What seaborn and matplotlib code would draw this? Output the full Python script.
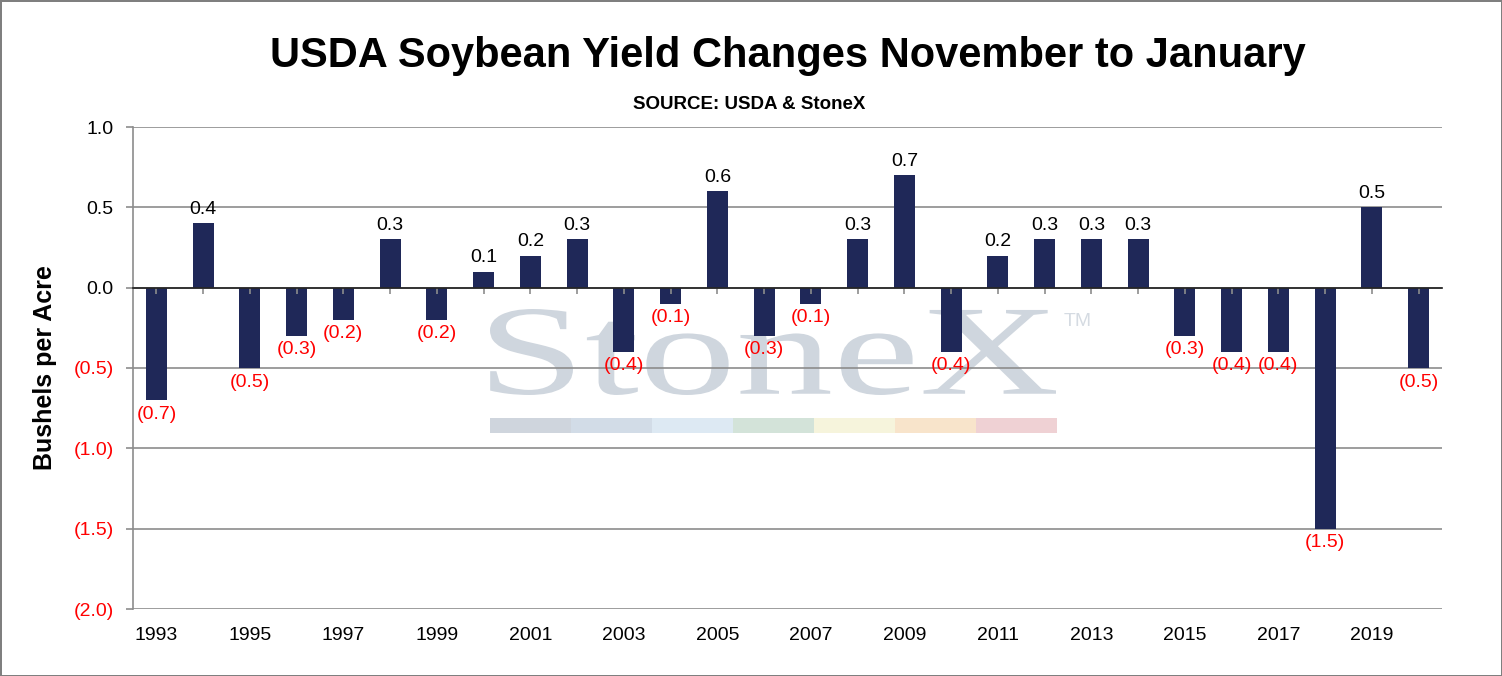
import numpy as np
import pandas as pd
import matplotlib
matplotlib.use("Agg")
import matplotlib.pyplot as plt
import seaborn as sns
from matplotlib.textpath import TextPath
from matplotlib.font_manager import FontProperties
from matplotlib.patches import PathPatch, Rectangle
from matplotlib.transforms import Affine2D, IdentityTransform

# data
years = list(range(1993, 2021))
changes = [-0.7, 0.4, -0.5, -0.3, -0.2, 0.3, -0.2, 0.1, 0.2, 0.3,
           -0.4, -0.1, 0.6, -0.3, -0.1, 0.3, 0.7, -0.4, 0.2, 0.3,
           0.3, 0.3, -0.3, -0.4, -0.4, -1.5, 0.5, -0.5]
y_ticks = [1.0, 0.5, 0.0, -0.5, -1.0, -1.5, -2.0]

BAR = "#1f2858"
GRID = "#8c8c8c"
RED = "#ff0000"

def fmt(v):
    return f"({abs(v):.1f})" if v < 0 else f"{v:.1f}"

df = pd.DataFrame({"year": [str(y) for y in years], "change": changes})

sns.set_theme(style="white")
plt.rcParams["font.family"] = ["Liberation Sans", "DejaVu Sans"]
plt.rcParams.update({"text.color": "black", "axes.labelcolor": "black",
                     "xtick.color": "black", "ytick.color": "black"})

fig = plt.figure(figsize=(15.02, 6.76), dpi=100)
fig.patch.set_facecolor("white")
fig.patch.set_edgecolor("#7f7f7f")
fig.patch.set_linewidth(2)
ax = fig.add_axes([133/1502, 67/676, 1309/1502, 482/676])
ax.set_facecolor("none")

# StoneX watermark (figure pixel coords)
fp = FontProperties(family="Liberation Serif")
tp = TextPath((0, 0), "StoneX", size=100, prop=fp)
ext = tp.get_extents()
x0, x1, ytop, ybot = 490, 1056, 309, 395
sx = (x1 - x0) / ext.width
sy = (ybot - ytop) / ext.height
tr = Affine2D().translate(-ext.x0, -ext.y0).scale(sx, sy).translate(x0, 676 - ybot)
wm = PathPatch(tr.transform_path(tp), facecolor="#cfd6de", edgecolor="none",
               transform=IdentityTransform(), zorder=-1)
fig.patches.append(wm)
fig.text(1064/1502, 1 - 322/676, "TM", fontsize=14, color="#d5dbe2", va="center")
seg_cols = ["#cfd5dd", "#d2dce7", "#dde9f3", "#d3e3d9", "#f6f4dc", "#f8e4cb", "#efd1d4"]
seg_w = (1057 - 490) / len(seg_cols)
for i, c in enumerate(seg_cols):
    fig.patches.append(Rectangle(((490 + i * seg_w) / 1502, 1 - 433/676), seg_w / 1502, 15/676,
                                 transform=fig.transFigure, facecolor=c, edgecolor="none", zorder=-1))

sns.barplot(data=df, x="year", y="change", color=BAR, saturation=1, width=0.45,
            linewidth=0, ax=ax, zorder=3)

ax.set_ylim(-2.0, 1.0)
ax.set_xlim(-0.5, len(years) - 0.5)
ax.set_yticks(y_ticks)
ax.set_yticklabels([fmt(v) for v in y_ticks])
for lab, v in zip(ax.get_yticklabels(), y_ticks):
    lab.set_color(RED if v < 0 else "black")
ax.yaxis.grid(True, color=GRID, linewidth=1.2, zorder=1)
ax.set_axisbelow(True)
ax.tick_params(axis="y", length=5, width=1.2, color=GRID, labelsize=14, pad=9, left=True)
ax.set_xticks(range(0, len(years), 2))
ax.set_xticklabels([str(y) for y in years[::2]])
ax.tick_params(axis="x", length=0, labelsize=14, pad=13)
for s in ["top", "right", "bottom"]:
    ax.spines[s].set_visible(False)
ax.spines["left"].set_color(GRID)
ax.spines["left"].set_linewidth(1.2)
ax.set_xlabel("")
ax.set_ylabel("Bushels per Acre", fontsize=18, fontweight="bold", labelpad=12)

# zero line with small ticks at each bar
sec = ax.secondary_xaxis(2/3)
sec.set_zorder(10)
sec.set_xticks(range(len(years)))
sec.set_xticklabels([])
sec.tick_params(axis="x", length=4, width=1.2, color=GRID, direction="in")
sec.spines["bottom"].set_color(GRID)
sec.spines["bottom"].set_linewidth(1.5)

labels = ax.bar_label(ax.containers[0], labels=[fmt(v) for v in changes], padding=4, fontsize=14)
for t, v in zip(labels, changes):
    t.set_color(RED if v < 0 else "black")

cx = (133 + 1442) / 2 / 1502
fig.text(cx, 1 - 67/676, "USDA Soybean Yield Changes November to January",
         ha="center", va="baseline", fontsize=30, fontweight="bold")
fig.text(749/1502, 1 - 109/676, "SOURCE: USDA & StoneX", ha="center", va="baseline",
         fontsize=13.5, fontweight="bold")

fig.savefig("out.png", dpi=100)
